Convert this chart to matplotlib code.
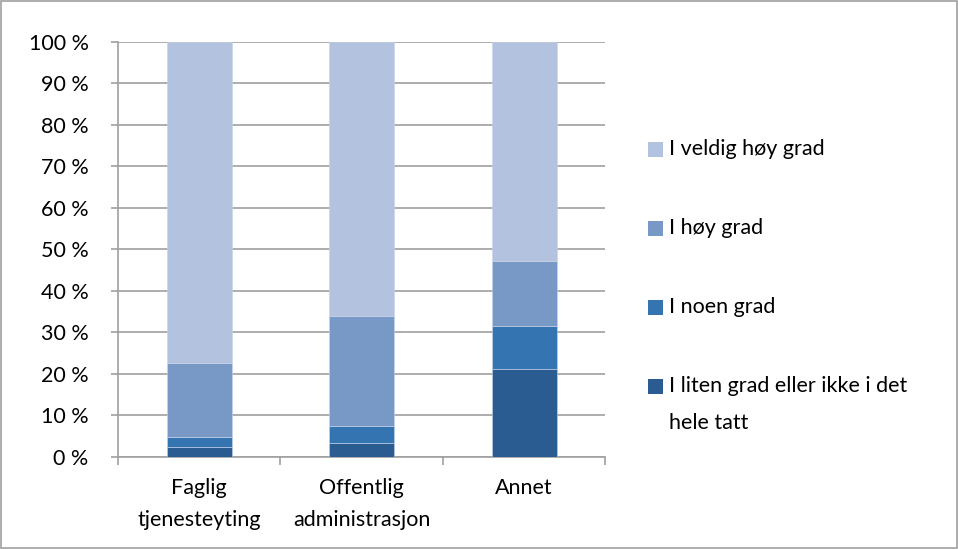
import matplotlib.pyplot as plt
import numpy as np
from matplotlib.patches import Rectangle
from matplotlib.ticker import FixedLocator

plt.rcParams['font.family'] = ['Lato', 'DejaVu Sans']

# Data (percent share per category)
categories = ['Faglig\ntjenesteyting', 'Offentlig\nadministrasjon', 'Annet']
series_names = ['I liten grad eller ikke i det\nhele tatt', 'I noen grad', 'I høy grad', 'I veldig høy grad']
liten = [2.5, 3.3, 21.1]
noen = [2.4, 4.2, 10.5]
hoy = [17.8, 26.5, 15.6]
veldig_hoy = [77.3, 66.0, 52.8]
colors = ['#2A5C91', '#3474B1', '#7898C6', '#B3C2DE']

FS = 15.5
W, H = 958, 549

fig = plt.figure(figsize=(W / 100, H / 100), dpi=100)
ax = fig.add_axes([0.123, 0.1676, 0.509, 0.7559])

x = np.arange(len(categories))
bottom = np.zeros(len(categories))
for vals, name, col in zip([liten, noen, hoy, veldig_hoy], series_names, colors):
    ax.bar(x, vals, width=0.4, bottom=bottom, color=col, label=name,
           edgecolor='#C8D4EA', linewidth=0.4, zorder=3)
    bottom += np.array(vals)

ax.set_xlim(-0.5, len(categories) - 0.5)
ax.set_ylim(0, 100)
ax.set_yticks(np.arange(0, 101, 10))
ax.set_yticklabels([f'{v} %' for v in range(0, 101, 10)], fontsize=FS)
ax.yaxis.grid(True, color='#A0A0A0', linewidth=1.2, zorder=0)
ax.set_axisbelow(True)

ax.set_xticks(x)
ax.set_xticklabels(categories, fontsize=FS, linespacing=1.75)
ax.tick_params(axis='x', length=0, pad=15)
ax.xaxis.set_minor_locator(FixedLocator(np.arange(-0.5, len(categories), 1.0)))
ax.tick_params(axis='x', which='minor', length=6, color='#A0A0A0', width=1.2)
ax.tick_params(axis='y', length=5, color='#A0A0A0', width=1.2, pad=16)

for s in ['top', 'right']:
    ax.spines[s].set_visible(False)
for s in ['left', 'bottom']:
    ax.spines[s].set_color('#A0A0A0')
    ax.spines[s].set_linewidth(1.2)

# legend drawn by hand so the marker sits on the first line of a wrapped label
for i, (name, col) in enumerate(zip(series_names[::-1], colors[::-1])):
    yc = 150 + i * 79
    fig.patches.append(Rectangle((648 / W, 1 - (yc + 7) / H), 15 / W, 15 / H,
                                 transform=fig.transFigure, facecolor=col,
                                 edgecolor='none'))
    fig.text(669 / W, 1 - (yc - 11) / H, name, fontsize=FS, va='top', ha='left',
             linespacing=2.05)

fig.patches.append(Rectangle((0.001, 0.001), 0.998, 0.997, transform=fig.transFigure,
                             fill=False, edgecolor='#A0A0A0', linewidth=1.2))

fig.savefig('out.png', dpi=100)
